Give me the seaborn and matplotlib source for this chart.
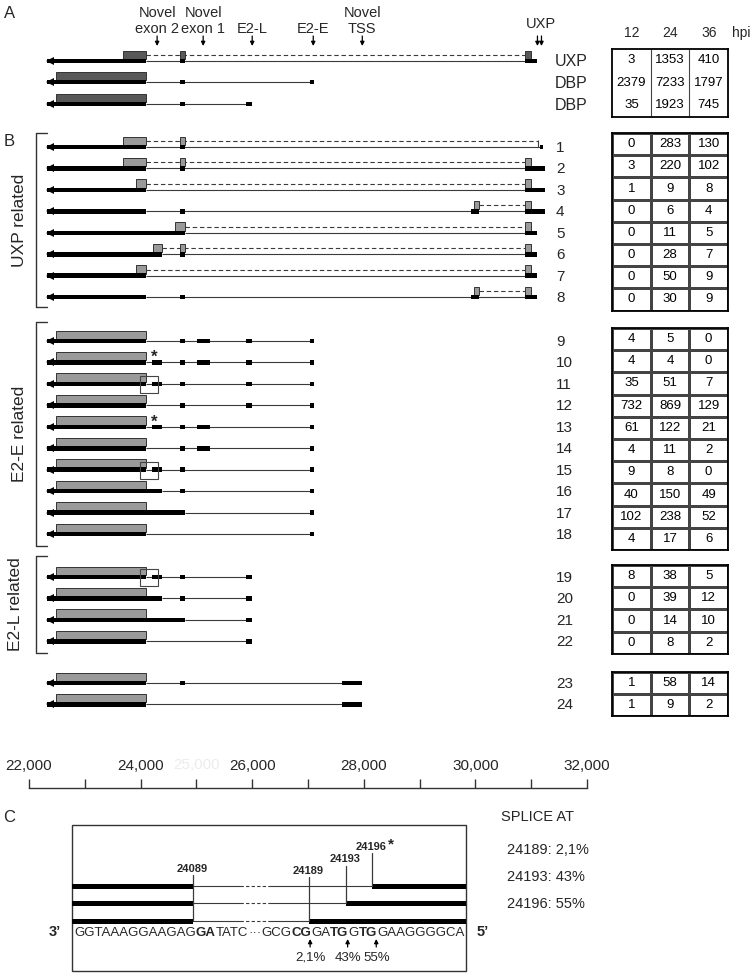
import matplotlib
matplotlib.use("Agg")
import matplotlib.pyplot as plt
import numpy as np
import pandas as pd
import seaborn as sns
from matplotlib.patches import Rectangle
from matplotlib.colors import ListedColormap
from matplotlib.ticker import FuncFormatter

sns.set_theme(style="white")
plt.rcParams["font.family"] = ["Liberation Sans", "DejaVu Sans"]

# ---------------- data ----------------
hpi = ["12", "24", "36"]

a_names = ["UXP", "DBP", "DBP"]
a_counts_12 = [3, 2379, 35]
a_counts_24 = [1353, 7233, 1923]
a_counts_36 = [410, 1797, 745]

b_ids = list(range(1, 25))
b_counts_12 = [0, 3, 1, 0, 0, 0, 0, 0,
               4, 4, 35, 732, 61, 4, 9, 40, 102, 4,
               8, 0, 0, 0,
               1, 1]
b_counts_24 = [283, 220, 9, 6, 11, 28, 50, 30,
               5, 4, 51, 869, 122, 11, 8, 150, 238, 17,
               38, 39, 14, 8,
               58, 9]
b_counts_36 = [130, 102, 8, 4, 5, 7, 9, 9,
               0, 0, 7, 129, 21, 2, 0, 49, 52, 6,
               5, 12, 10, 2,
               14, 2]
b_group_names = ["UXP related", "E2-E related", "E2-L related", ""]
b_group_sizes = [8, 10, 4, 2]

landmark_names = [["Novel", "exon 2"], ["Novel", "exon 1"], ["E2-L"], ["E2-E"], ["Novel", "TSS"], ["UXP"]]
landmark_pos = [[24296], [25121], [26000], [27094], [27973], [31112, 31184]]

# genomic structures (exons = black blocks, orfs = grey boxes, dashed = alternative splice)
a_exons = [[(22323, 24089), (24710, 24800), (30880, 31110)],
           [(22323, 24089), (24710, 24800), (27040, 27100)],
           [(22323, 24089), (24710, 24800), (25890, 26000)]]
a_orfs = [[(23686, 24089), (24710, 24800), (30880, 31000)],
          [(22484, 24089)],
          [(22484, 24089)]]
a_dashed = [[(24089, 30880)], [], []]

b_exons = [
    [(22323, 24089), (24710, 24800), (31150, 31215)],
    [(22323, 24089), (24710, 24800), (30880, 31240)],
    [(22323, 24089), (30880, 31240)],
    [(22323, 24089), (24710, 24800), (29930, 30070), (30880, 31240)],
    [(22323, 24800), (30880, 31110)],
    [(22323, 24386), (24710, 24800), (30880, 31110)],
    [(22323, 24089), (30880, 31110)],
    [(22323, 24089), (24710, 24800), (29930, 30070), (30880, 31110)],
    [(22323, 24089), (24710, 24800), (25010, 25250), (25890, 26000), (27040, 27100)],
    [(22323, 24089), (24196, 24386), (24710, 24800), (25010, 25250), (25890, 26000), (27040, 27100)],
    [(22323, 24089), (24206, 24386), (24710, 24800), (25890, 26000), (27040, 27100)],
    [(22323, 24089), (24710, 24800), (25890, 26000), (27040, 27100)],
    [(22323, 24089), (24196, 24386), (24710, 24800), (25010, 25250), (27040, 27100)],
    [(22323, 24089), (24710, 24800), (25010, 25250), (27040, 27100)],
    [(22323, 24089), (24206, 24386), (24710, 24800), (27040, 27100)],
    [(22323, 24386), (24710, 24800), (27040, 27100)],
    [(22323, 24800), (27040, 27100)],
    [(22323, 24089), (27040, 27100)],
    [(22323, 24089), (24206, 24386), (24710, 24800), (25890, 26000)],
    [(22323, 24386), (24710, 24800), (25890, 26000)],
    [(22323, 24800), (25890, 26000)],
    [(22323, 24089), (25890, 26000)],
    [(22323, 24089), (24710, 24800), (27614, 27973)],
    [(22323, 24089), (27614, 27973)],
]
b_orfs = [
    [(23686, 24089), (24710, 24800)],
    [(23686, 24089), (24710, 24800), (30880, 31000)],
    [(23919, 24089), (30880, 31000)],
    [(29982, 30070), (30880, 31000)],
    [(24620, 24800), (30880, 31000)],
    [(24225, 24386), (24710, 24800), (30880, 31000)],
    [(23919, 24089), (30880, 31000)],
    [(29982, 30070), (30880, 31000)],
] + [[(22484, 24089)]] * 16
b_dashed = [[(24089, 31130)], [(24089, 30880)], [(24089, 30880)], [(30070, 30880)],
            [(24800, 30880)], [(24386, 30880)], [(24089, 30880)], [(30070, 30880)]] + [[]] * 16
b_star_rows = [10, 13]
star_pos = 24245
b_boxed_rows = [11, 15, 19]
boxed_span = (23991, 24314)

scale_major = [22000, 24000, 26000, 28000, 30000, 32000]
scale_minor = [23000, 25000, 27000, 29000, 31000]

splice_sites = [24089, 24189, 24193, 24196]
splice_pct = ["2,1%", "43%", "55%"]
seq_segments = [("GGTAAAGGAAGAG", False), ("GA", True), ("TATC", False), ("\u00b7\u00b7\u00b7", False),
                ("GCG", False), ("CG", True), ("GA", False), ("TG", True), ("G", False),
                ("TG", True), ("GAAGGGGCA", False)]

# ---------------- figure ----------------
W, H = 750, 973
fig = plt.figure(figsize=(W / 100, H / 100), dpi=100)
ax0 = fig.add_axes([0, 0, 1, 1])
ax0.set_xlim(0, W)
ax0.set_ylim(H, 0)
ax0.axis("off")

axg = fig.add_axes([29 / W, 0, 558 / W, 1])
axg.set_xlim(22000, 32000)
axg.set_ylim(H, 0)
axg.axis("off")
axg.patch.set_alpha(0)

line_c = "#3a3a3a"


def draw_tx(y, exons, orfs, dashed, orf_fc, tick=False):
    axg.hlines(y, exons[0][1], exons[-1][0], color=line_c, lw=0.8, zorder=1)
    for d0, d1 in dashed:
        axg.hlines(y - 6, d0, d1, color=line_c, lw=0.8, linestyles=(0, (4, 2.5)), zorder=1)
        if tick:
            axg.vlines(d1, y - 7, y, color=line_c, lw=0.8, zorder=1)
    for s, e in orfs:
        axg.add_patch(Rectangle((s, y - 10.5), e - s, 8.5, fc=orf_fc, ec="#333333", lw=0.7, zorder=2))
    for s, e in exons:
        axg.add_patch(Rectangle((s, y - 2.3), e - s, 4.6, fc="black", ec="none", zorder=3))
    axg.plot([exons[0][0] + 45], [y], marker="<", ms=5.5, color="black", mew=0, zorder=4)


# ---- Panel A ----
a_rows_y = [61, 82, 104]
for i, y in enumerate(a_rows_y):
    draw_tx(y, a_exons[i], a_orfs[i], a_dashed[i], "#585858")
    ax0.text(555, y + 1, a_names[i], ha="left", va="center", fontsize=11.5)

for names, xs in zip(landmark_names, landmark_pos):
    xc = np.mean(xs)
    if len(names) == 2:
        axg.text(xc, 17, names[0], ha="center", va="baseline", fontsize=10.5)
        axg.text(xc, 33, names[1], ha="center", va="baseline", fontsize=10.5)
    else:
        yb = 28 if names[0] == "UXP" else 33
        axg.text(xc + (25 if names[0] == "UXP" else 0), yb, names[0], ha="center", va="baseline", fontsize=10.5)
    for x in xs:
        axg.annotate("", xy=(x, 46), xytext=(x, 36),
                     arrowprops=dict(arrowstyle="-|>", color="black", lw=0.9, mutation_scale=6,
                                     shrinkA=0, shrinkB=0))

# ---- Panel B ----
group_starts = [147, 341, 577, 683]
row_gap = 21.45
b_rows_y = []
for st, n in zip(group_starts, b_group_sizes):
    b_rows_y += [st + k * row_gap for k in range(n)]

for i, y in enumerate(b_rows_y):
    draw_tx(y, b_exons[i], b_orfs[i], b_dashed[i], "#9a9a9a", tick=(i == 0))
    if b_ids[i] in b_star_rows:
        axg.text(star_pos, y - 5, "*", ha="center", va="center", fontsize=12, fontweight="bold")
    if b_ids[i] in b_boxed_rows:
        axg.add_patch(Rectangle((boxed_span[0], y - 8), boxed_span[1] - boxed_span[0], 17,
                                fill=False, ec="#444444", lw=0.8, zorder=5))
    ax0.text(556, y + 1, str(b_ids[i]), ha="left", va="center", fontsize=11)

# brackets
bracket_spans = [(133, 307), (322, 546), (556, 653)]
label_x = [20, 20, 16]
for (t, b), name, lx in zip(bracket_spans, b_group_names[:3], label_x):
    ax0.plot([47, 36, 36, 47], [t, t, b, b], color="#333333", lw=1.0)
    ax0.text(lx, (t + b) / 2, name, rotation=90, ha="center", va="center", fontsize=12.5)

# panel letters
ax0.text(10, 13, "A", ha="center", va="center", fontsize=12)
ax0.text(9, 141, "B", ha="center", va="center", fontsize=12)
ax0.text(9, 818, "C", ha="center", va="center", fontsize=12)

# ---- tables ----
white = ListedColormap(["white"])


def add_table(top, counts, row_h, grid=True):
    n = len(counts)
    h = n * row_h
    axt = fig.add_axes([612 / W, 1 - (top + h) / H, 116 / W, h / H])
    df = pd.DataFrame(np.array(counts), columns=hpi)
    sns.heatmap(df, annot=True, fmt="d", cmap=white, cbar=False,
                linewidths=0.8 if grid else 0, linecolor="#444444",
                xticklabels=False, yticklabels=False, ax=axt,
                annot_kws={"size": 9.5, "color": "black"})
    if not grid:
        axt.vlines([1, 2], 0, n, color="#444444", lw=0.8)
    for s in axt.spines.values():
        s.set_visible(True)
        s.set_linewidth(1.3)
        s.set_color("black")
    return axt


add_table(49, list(zip(a_counts_12, a_counts_24, a_counts_36)), 22.6, grid=False)
b_all = list(zip(b_counts_12, b_counts_24, b_counts_36))
table_tops = [133, 328, 565, 672]
k = 0
for top, n in zip(table_tops, b_group_sizes):
    add_table(top, b_all[k:k + n], 22.2)
    k += n

for lab, x in zip(hpi, [632, 670, 709]):
    ax0.text(x, 33, lab, ha="center", va="center", fontsize=10)
ax0.text(741, 33, "hpi", ha="center", va="center", fontsize=10)

# ---- scale bar ----
axs = fig.add_axes([29 / W, (H - 788) / H, 558 / W, 0.0001])
axs.set_xlim(22000, 32000)
axs.set_yticks([])
axs.patch.set_alpha(0)
for s in ["left", "right", "bottom"]:
    axs.spines[s].set_visible(False)
axs.spines["top"].set_visible(True)
axs.spines["top"].set_color("#333333")
axs.spines["top"].set_linewidth(1.0)
axs.set_xticks(scale_major)
axs.set_xticks(scale_minor, minor=True)
axs.xaxis.set_major_formatter(FuncFormatter(lambda v, p: f"{int(v):,}"))
axs.tick_params(axis="x", which="both", direction="out", length=6.5, width=1.0, color="#333333",
                labelsize=11, pad=4.5, top=True, bottom=False, labeltop=True, labelbottom=False)
axg.text(25000, 769, "25,000", ha="center", va="baseline", fontsize=11, color="#ececec")

# ---- Panel C ----
ax0.add_patch(Rectangle((72, 825), 394, 146, fill=False, ec="#333333", lw=1.0))
renderer = fig.canvas.get_renderer()
inv = ax0.transData.inverted()
seq_x0, seq_y = 74, 936


def place_seq(size):
    arts, spans = [], []
    x = seq_x0
    for s, b in seq_segments:
        t = ax0.text(x, seq_y, s, fontsize=size, fontweight="bold" if b else "normal",
                     ha="left", va="baseline")
        bb = t.get_window_extent(renderer)
        (x0, _), (x1, _) = inv.transform([[bb.x0, bb.y0], [bb.x1, bb.y1]])
        arts.append(t)
        spans.append((x0, x1))
        x = x1
    return arts, spans


arts, spans = place_seq(10)
width = spans[-1][1] - seq_x0
for a in arts:
    a.remove()
arts, spans = place_seq(10 * 391 / width)

x_site = {24089: spans[1][0] - 3, 24189: spans[5][1] - 2, 24193: spans[7][1] - 3, 24196: spans[9][1] - 5}
row_ys = [886, 903, 921]
row_sites = [24196, 24193, 24189]
dash0, dash1 = spans[3][0] - 8, spans[3][1] + 9
for y, site in zip(row_ys, row_sites):
    xs = x_site[site]
    ax0.add_patch(Rectangle((72, y - 2.5), x_site[24089] - 72, 5, fc="black", ec="none"))
    ax0.add_patch(Rectangle((xs, y - 2.5), 466 - xs, 5, fc="black", ec="none"))
    ax0.plot([x_site[24089], dash0], [y, y], color=line_c, lw=0.8)
    ax0.plot([dash0, dash1], [y, y], color=line_c, lw=0.8, ls=(0, (3, 2)))
    ax0.plot([dash1, xs], [y, y], color=line_c, lw=0.8)

vert_tops = {24089: 875, 24189: 877, 24193: 866, 24196: 853}
vert_bots = {24089: 921, 24189: 921, 24193: 903, 24196: 886}
for site in splice_sites:
    x = x_site[site]
    ax0.plot([x, x], [vert_tops[site], vert_bots[site]], color=line_c, lw=0.9)
    ax0.text(x - 1, vert_tops[site] - 1.5, str(site), ha="center", va="bottom", fontsize=8,
             fontweight="bold")
ax0.text(x_site[24196] + 16, vert_tops[24196] - 2, "*", ha="left", va="bottom", fontsize=11,
         fontweight="bold")

ax0.text(55, seq_y, "3\u2019", ha="center", va="baseline", fontsize=10.5, fontweight="bold")
ax0.text(483, seq_y, "5\u2019", ha="center", va="baseline", fontsize=10.5, fontweight="bold")

for seg, pct in zip([5, 7, 9], splice_pct):
    xa = spans[seg][1] - 1
    ax0.annotate("", xy=(xa, 939), xytext=(xa, 947),
                 arrowprops=dict(arrowstyle="-|>", color="black", lw=0.9, mutation_scale=6,
                                 shrinkA=0, shrinkB=0))
    ax0.text(xa, 958, pct, ha="center", va="center", fontsize=9.5)

ax0.text(501, 817, "SPLICE AT", ha="left", va="center", fontsize=10.5)
for i, (site, pct) in enumerate(zip(splice_sites[1:], splice_pct)):
    ax0.text(507, 850 + i * 27, f"{site}: {pct}", ha="left", va="center", fontsize=10.5)

fig.savefig("out.png", dpi=100)
